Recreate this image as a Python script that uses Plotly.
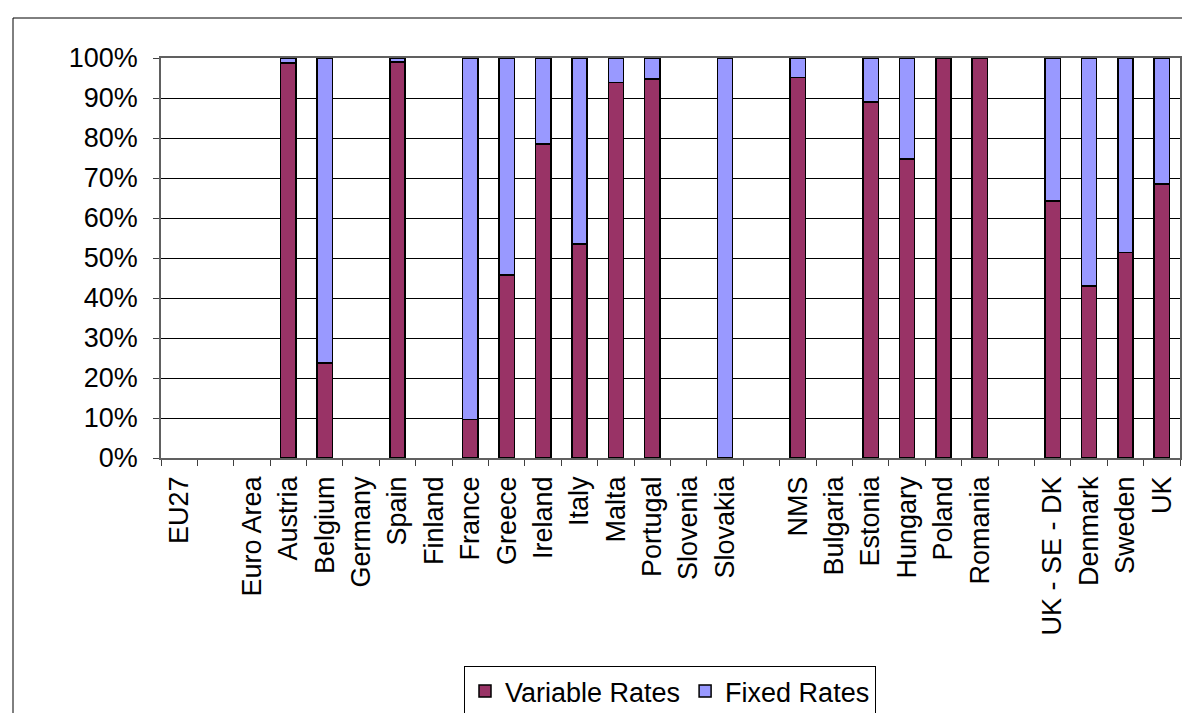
import plotly.graph_objects as go

# Categories (blank strings are spacer slots between country groups)
categories = [
    "EU27", " ", "Euro Area", "Austria", "Belgium", "Germany", "Spain", "Finland",
    "France", "Greece", "Ireland", "Italy", "Malta", "Portugal", "Slovenia",
    "Slovakia", "  ", "NMS", "Bulgaria", "Estonia", "Hungary", "Poland",
    "Romania", "   ", "UK - SE - DK", "Denmark", "Sweden", "UK",
]

# Share of variable-rate loans (%); None where no segment is drawn
variable_rates = [
    None, None, None, 98.7, 23.8, None, 99.0, None,
    9.6, 45.7, 78.5, 53.5, 93.9, 94.8, None,
    None, None, 95.1, None, 89.0, 74.8, 100.0,
    100.0, None, 64.2, 43.0, 51.4, 68.5,
]

# Share of fixed-rate loans (%)
fixed_rates = [
    None, None, None, 1.3, 76.2, None, 1.0, None,
    90.4, 54.3, 21.5, 46.5, 6.1, 5.2, None,
    100.0, None, 4.9, None, 11.0, 25.2, None,
    None, None, 35.8, 57.0, 48.6, 31.5,
]

y_tickvals = [0, 10, 20, 30, 40, 50, 60, 70, 80, 90, 100]
y_ticktext = ["0%", "10%", "20%", "30%", "40%", "50%", "60%", "70%", "80%", "90%", "100%"]

FONT = "Arial, Liberation Sans, sans-serif"

fig = go.Figure()
fig.add_trace(go.Bar(
    x=categories, y=variable_rates, name="Variable Rates",
    marker=dict(color="#993366", line=dict(color="black", width=1.5)),
    width=0.42,
))
fig.add_trace(go.Bar(
    x=categories, y=fixed_rates, name="Fixed Rates",
    marker=dict(color="#9999FF", line=dict(color="black", width=1.5)),
    width=0.42,
))

# Plot area spans x 161..1180 px, y 58..458 px
L, R, T, B = 161, 2, 58, 255
W, H = 1182, 713
pw, ph = W - L - R, H - T - B
bottom_px = T + ph

fig.update_layout(
    width=W, height=H,
    barmode="stack",
    paper_bgcolor="white",
    plot_bgcolor="white",
    margin=dict(l=L, r=R, t=T, b=B, autoexpand=False),
    font=dict(family=FONT, size=27, color="black"),
    showlegend=True,
    legend=dict(
        orientation="h",
        x=(670 - L) / pw, xanchor="center",
        y=-(666 - bottom_px) / ph, yanchor="top",
        traceorder="normal",
        bordercolor="black", borderwidth=1,
        bgcolor="white",
        font=dict(family=FONT, size=27, color="black"),
        itemwidth=30,
    ),
    xaxis=dict(
        type="category",
        categoryorder="array", categoryarray=categories,
        tickangle=-90,
        ticks="outside", ticklen=6, tickcolor="#404040",
        tickson="boundaries",
        showline=True, linecolor="#606060", linewidth=1.5, mirror=True,
        showgrid=False,
        ticklabelstandoff=6,
        tickfont=dict(family=FONT, size=27, color="black"),
    ),
    yaxis=dict(
        range=[0, 100],
        tickvals=y_tickvals, ticktext=y_ticktext,
        ticks="outside", ticklen=6, tickcolor="#404040",
        showline=True, linecolor="#606060", linewidth=1.5, mirror=True,
        showgrid=True, gridcolor="black", gridwidth=1,
        zeroline=False,
        ticklabelstandoff=10,
        tickfont=dict(family=FONT, size=27, color="black"),
    ),
)

# Outer chart frame (left and top edges visible)
fig.add_shape(
    type="rect", xref="paper", yref="paper",
    x0=(13 - L) / pw, x1=(W + 20 - L) / pw,
    y0=-(H + 20 - bottom_px) / ph, y1=(bottom_px - 18) / ph,
    line=dict(color="black", width=1), fillcolor="rgba(0,0,0,0)",
    layer="below",
)

fig.write_html("out.html")
